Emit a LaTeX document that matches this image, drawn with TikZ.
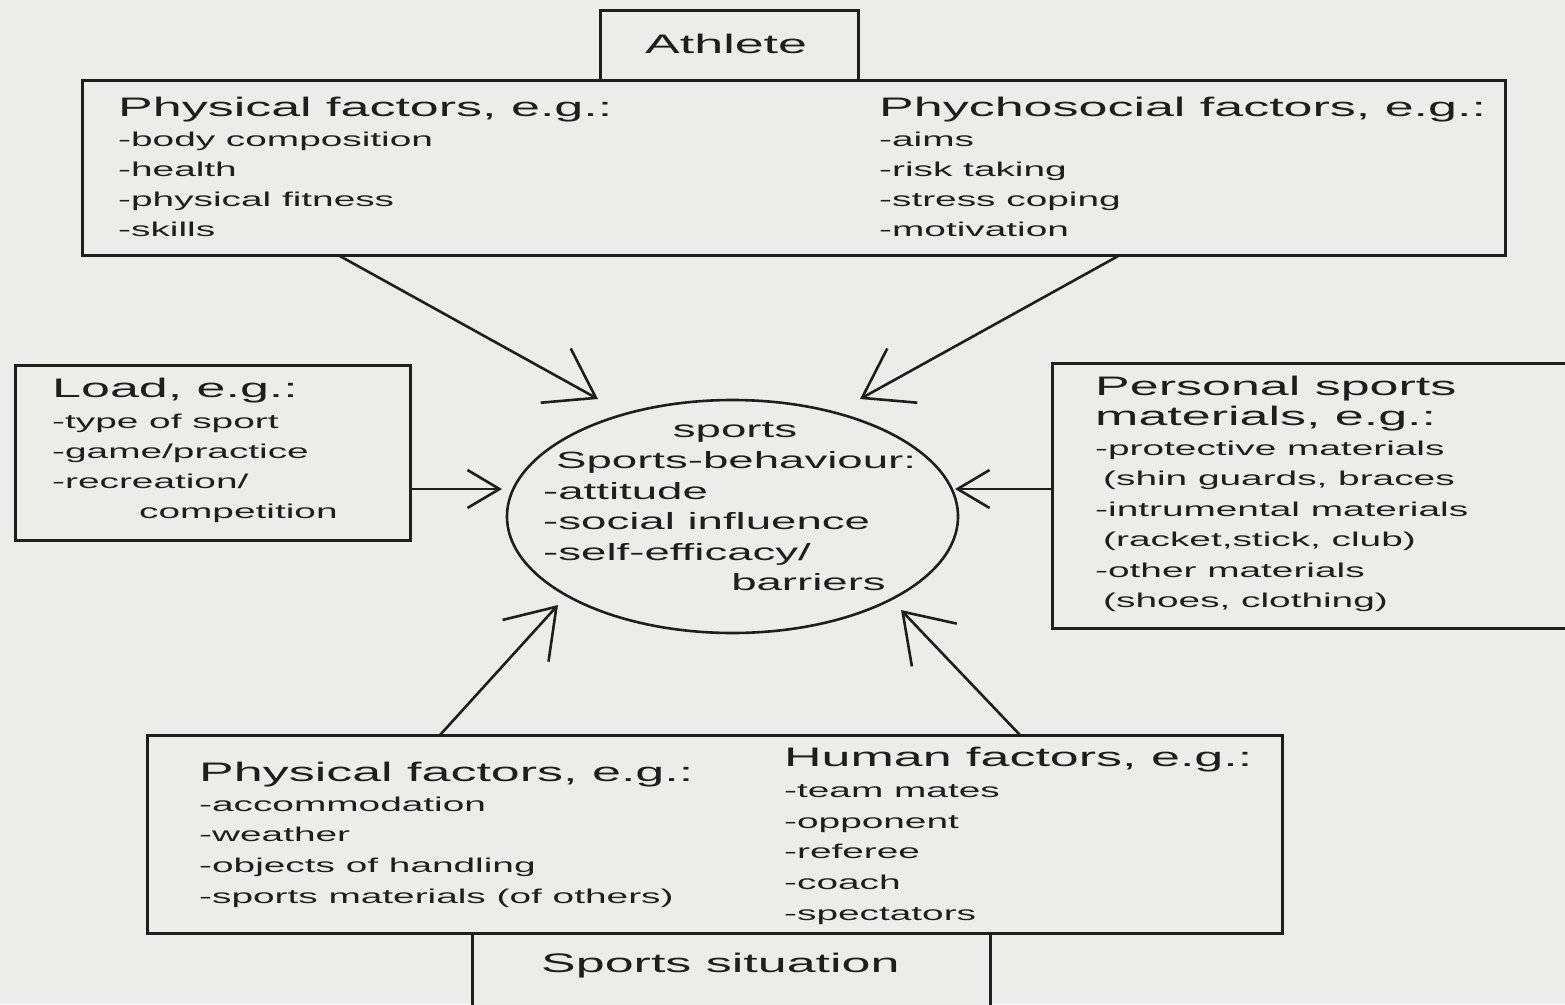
\documentclass[tikz,border=0pt]{standalone}
\usepackage{fontspec}
\setmainfont{Liberation Sans}[FakeStretch=1.94]
\usetikzlibrary{arrows.meta,shapes.geometric}
\definecolor{paper}{RGB}{236,236,234}
\definecolor{ink}{RGB}{30,30,30}
\newcommand\hdfont{\fontsize{26.8}{30}\selectfont}
\newcommand\itfont{\fontsize{20}{30}\selectfont}
\newcommand\elfont{\fontsize{23.5}{30}\selectfont}
\begin{document}
\begin{tikzpicture}[x=1pt,y=-1pt,
 boxnode/.style={draw=ink, line width=3pt, inner sep=0pt, outer sep=0pt, fill=paper},
 hd/.style={anchor=base west, inner sep=0pt, text=ink, font=\hdfont},
 itm/.style={anchor=base west, inner sep=0pt, text=ink, font=\itfont},
 elt/.style={anchor=base west, inner sep=0pt, text=ink, font=\elfont},
 arr/.style={draw=ink, line width=2.6pt, -{Straight Barb[length=46pt,width=62pt]}},
 sarr/.style={draw=ink, line width=2.6pt, -{Straight Barb[length=32pt,width=38pt]}},
]
\fill[paper] (0,0) rectangle (1565,1004);
\useasboundingbox (0,0) rectangle (1565,1004);

% boxes
\node[boxnode, minimum width=258pt, minimum height=70pt] (athlete) at (729,45) {};
\node[boxnode, minimum width=1423pt, minimum height=175pt] (top) at (793.5,167.5) {};
\node[boxnode, minimum width=395pt, minimum height=175pt] (load) at (212.5,452.5) {};
\node[boxnode, minimum width=528pt, minimum height=265pt] (pers) at (1316,495.5) {};
\node[boxnode, minimum width=518pt, minimum height=77pt] (sit) at (731,971.5) {};
\node[boxnode, minimum width=1135pt, minimum height=198pt] (bot) at (714.5,834) {};
\node[draw=ink, line width=2.6pt, ellipse, inner sep=0pt, minimum width=451pt, minimum height=233pt] (core) at (732.5,516.5) {};

% texts
\node[hd] (athtxt) at (645,53) {Athlete};
\node[hd] (sittxt) at (541,972) {Sports situation};

\node[hd] (pfh) at (118,116) {Physical factors, e.g.:};
\foreach \t [count=\i] in {-body composition,-health,-physical fitness,-skills}
  \node[itm] (pfa\i) at (118,116+30*\i) {\t};

\node[hd] (psh) at (879,116) {Phychosocial factors, e.g.:};
\foreach \t [count=\i] in {-aims,-risk taking,-stress coping,-motivation}
  \node[itm] (psa\i) at (879,116+30*\i) {\t};

\node[hd] (ldh) at (52,397) {Load, e.g.:};
\node[itm] (ld1) at (52,428) {-type of sport};
\node[itm] (ld2) at (52,458) {-game/practice};
\node[itm] (ld3) at (52,488) {-recreation/};
\node[itm] (ld4) at (139,518) {competition};

\node[elt, anchor=base] (el0) at (735,437) {sports};
\node[elt] (el1) at (556,468) {Sports-behaviour:};
\node[elt] (el2) at (543,499) {-attitude};
\node[elt] (el3) at (543,529) {-social influence};
\node[elt] (el4) at (543,560) {-self-efficacy/};
\node[elt, anchor=base east] (el5) at (886,590) {barriers};

\node[hd] (peh1) at (1095,395) {Personal sports};
\node[hd] (peh2) at (1095,425) {materials, e.g.:};
\node[itm] (pe1) at (1095,455) {-protective materials};
\node[itm] (pe2) at (1103,485) {(shin guards, braces};
\node[itm] (pe3) at (1095,516) {-intrumental materials};
\node[itm] (pe4) at (1103,546) {(racket,stick, club)};
\node[itm] (pe5) at (1095,577) {-other materials};
\node[itm] (pe6) at (1103,607) {(shoes, clothing)};

\node[hd] (bph) at (199,781) {Physical factors, e.g.:};
\node[itm] (bp1) at (199,811) {-accommodation};
\node[itm] (bp2) at (199,841) {-weather};
\node[itm] (bp3) at (199,872) {-objects of handling};
\node[itm] (bp4) at (199,903) {-sports materials (of others)};

\node[hd] (hfh) at (784,766) {Human factors, e.g.:};
\node[itm] (hf1) at (784,797) {-team mates};
\node[itm] (hf2) at (784,828) {-opponent};
\node[itm] (hf3) at (784,858) {-referee};
\node[itm] (hf4) at (784,889) {-coach};
\node[itm] (hf5) at (784,920) {-spectators};

% arrows
\coordinate (t1) at (598,399);
\coordinate (t2) at (860,399);
\coordinate (t3) at (502,489);
\coordinate (t4) at (955,489);
\coordinate (t5) at (558,605);
\coordinate (t6) at (901,610);
\draw[arr] ([xshift=256pt]top.south west) -- (t1);
\draw[arr] ([xshift=1038pt]top.south west) -- (t2);
\draw[sarr] (load.east |- t3) -- (t3);
\draw[sarr] (pers.west |- t4) -- (t4);
\draw[arr] ([xshift=293pt]bot.north west) -- (t5);
\draw[arr] ([xshift=873pt]bot.north west) -- (t6);
\end{tikzpicture}
\end{document}
